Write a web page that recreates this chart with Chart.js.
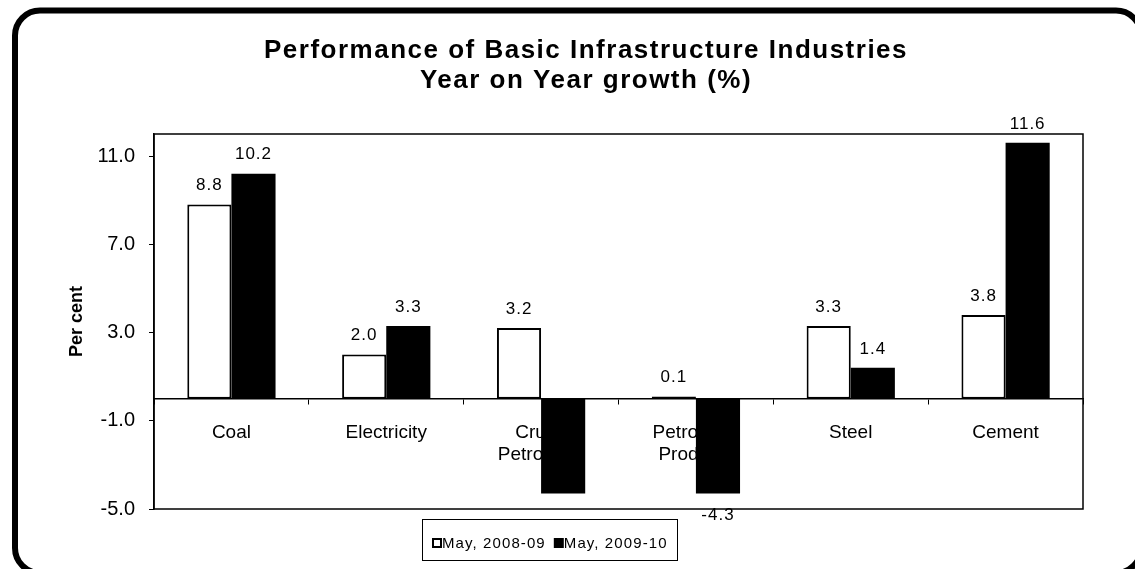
<!DOCTYPE html>
<html>
<head>
<meta charset="utf-8">
<script src="https://cdn.jsdelivr.net/npm/chart.js@4.4.0/dist/chart.umd.min.js"></script>
<style>
  body { margin: 0; background: #fff; }
</style>
</head>
<body>
<canvas id="infraChart" width="1135" height="569"></canvas>
<script>
const categories = ["Coal", "Electricity", ["Crude", "Petroleum"], ["Petroleum", "Products"], "Steel", "Cement"];
const may0809 = [8.8, 2.0, 3.2, 0.1, 3.3, 3.8];
const may0910 = [10.2, 3.3, -4.3, -4.3, 1.4, 11.6];
const seriesNames = ["May, 2008-09", "May, 2009-10"];
const yTicks = [-5, -1, 3, 7, 11];
const titleLines = ["Performance of Basic Infrastructure Industries", "Year on Year growth (%)"];
// value labels the original doesn't show: [dataset, point]
const hiddenLabels = [[1, 2]];

const FONT = '"Liberation Sans", Arial, sans-serif';

const decorations = {
    id: 'decorations',
    beforeDraw(chart) {
        const ctx = chart.ctx;
        ctx.save();
        ctx.fillStyle = '#fff';
        ctx.fillRect(0, 0, chart.width, chart.height);
        ctx.restore();
    },
    beforeDatasetsDraw(chart) {
        // box round the plot area
        const { ctx, chartArea: a } = chart;
        ctx.save();
        ctx.strokeStyle = '#000';
        ctx.lineWidth = 1.5;
        ctx.strokeRect(a.left, a.top, a.right - a.left, a.bottom - a.top);
        ctx.restore();
    },
    afterDatasetsDraw(chart) {
        const ctx = chart.ctx;
        ctx.save();
        ctx.font = '17px ' + FONT;
        ctx.letterSpacing = '1px';
        ctx.fillStyle = '#000';
        ctx.textAlign = 'center';
        ctx.textBaseline = 'middle';
        chart.data.datasets.forEach((ds, di) => {
            chart.getDatasetMeta(di).data.forEach((bar, i) => {
                if (hiddenLabels.some(h => h[0] === di && h[1] === i)) return;
                const v = ds.data[i];
                const y = v >= 0 ? bar.y - 19 : bar.y + 22;
                ctx.fillText(v.toFixed(1), bar.x, y);
            });
        });
        ctx.restore();
    },
    afterDraw(chart) {
        const ctx = chart.ctx;
        ctx.save();

        // title
        ctx.font = 'bold 26px ' + FONT;
        ctx.letterSpacing = '1.5px';
        ctx.fillStyle = '#000';
        ctx.textAlign = 'center';
        ctx.textBaseline = 'middle';
        titleLines.forEach((t, i) => ctx.fillText(t, 586, 51 + i * 30));

        // legend
        ctx.letterSpacing = '1.1px';
        ctx.font = '15px ' + FONT;
        ctx.textAlign = 'left';
        ctx.strokeStyle = '#000';
        ctx.lineWidth = 1;
        ctx.strokeRect(422.5, 519.5, 255, 41);
        let x = 433;
        chart.data.datasets.forEach(ds => {
            ctx.fillStyle = ds.backgroundColor;
            ctx.fillRect(x, 539, 8, 8);
            ctx.lineWidth = 2;
            ctx.strokeRect(x, 539, 8, 8);
            ctx.fillStyle = '#000';
            ctx.fillText(ds.label, x + 9, 543.5);
            x += 9 + ctx.measureText(ds.label).width + 9;
        });

        // rounded outer frame, right and bottom edges run just off the canvas
        const l = 15, t = 10.5, r = 1141, b = 573, rad = 25;
        ctx.lineWidth = 6;
        ctx.beginPath();
        ctx.moveTo(l + rad, t);
        ctx.arcTo(r, t, r, b, rad);
        ctx.arcTo(r, b, l, b, rad);
        ctx.arcTo(l, b, l, t, rad);
        ctx.arcTo(l, t, r, t, rad);
        ctx.closePath();
        ctx.stroke();
        ctx.restore();
    }
};

new Chart(document.getElementById('infraChart').getContext('2d'), {
    type: 'bar',
    data: {
        labels: categories,
        datasets: [
            {
                label: seriesNames[0],
                data: may0809,
                backgroundColor: '#fff',
                borderColor: '#000',
                borderWidth: 2,
                borderSkipped: false
            },
            {
                label: seriesNames[1],
                data: may0910,
                backgroundColor: '#000',
                borderColor: '#000',
                borderWidth: 0
            }
        ]
    },
    options: {
        responsive: false,
        animation: false,
        devicePixelRatio: 1,
        categoryPercentage: 0.57,
        barPercentage: 1.0,
        layout: { padding: { top: 134, left: 55, right: 52, bottom: 60 } },
        plugins: {
            legend: { display: false },
            tooltip: { enabled: false },
            title: { display: false }
        },
        scales: {
            x: {
                position: { y: 0 },
                grid: { drawOnChartArea: false, drawTicks: true, tickLength: 5, offset: true, color: '#000' },
                border: { display: true, color: '#000', width: 1.5 },
                ticks: {
                    color: '#000',
                    font: { family: FONT, size: 19, lineHeight: 1.15 },
                    padding: 18,
                    maxRotation: 0,
                    autoSkip: false
                }
            },
            y: {
                min: -5,
                max: 12,
                afterBuildTicks: s => { s.ticks = yTicks.map(v => ({ value: v })); },
                afterFit: s => { s.width = 99; },
                grid: { drawOnChartArea: false, drawTicks: true, tickLength: 5, color: '#000' },
                border: { display: true, color: '#000', width: 1.5 },
                ticks: {
                    color: '#000',
                    font: { family: FONT, size: 20 },
                    padding: 14,
                    callback: v => v.toFixed(1)
                },
                title: {
                    display: true,
                    text: 'Per cent',
                    color: '#000',
                    font: { family: FONT, size: 18, weight: 'bold' },
                    padding: { top: 11, bottom: 0 }
                }
            }
        }
    },
    plugins: [decorations]
});
</script>
</body>
</html>
